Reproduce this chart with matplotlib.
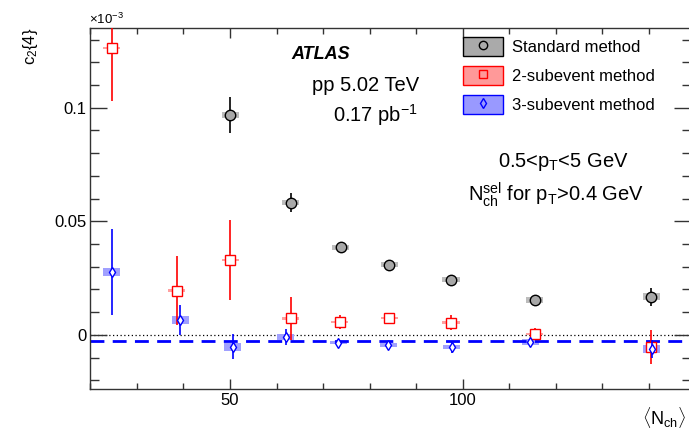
# c2{4} vs <Nch>, three cumulant methods
import matplotlib
matplotlib.use('Agg')
import matplotlib.pyplot as plt
from matplotlib.patches import Patch
from matplotlib.lines import Line2D
from matplotlib.ticker import MultipleLocator, FuncFormatter

plt.rcParams['font.family'] = ['Liberation Sans', 'DejaVu Sans']
plt.rcParams['mathtext.fontset'] = 'custom'
plt.rcParams['mathtext.rm'] = 'Liberation Sans'
plt.rcParams['mathtext.it'] = 'Liberation Sans'
plt.rcParams['mathtext.bf'] = 'Liberation Sans:bold'

# values in units of 1e-3
# standard method
std_x = [50.1, 63.0, 73.8, 84.2, 97.5, 115.5, 140.5]
std_y = [0.0969, 0.0582, 0.0386, 0.0308, 0.0243, 0.0154, 0.0167]
std_err = [0.0078, 0.0042, 0.0012, 0.0010, 0.0012, 0.0015, 0.0038]
std_sys = [0.0013, 0.0012, 0.0011, 0.0011, 0.0012, 0.0013, 0.0015]

# 2-subevent method
sub2_x = [24.6, 38.5, 50.1, 63.0, 73.6, 84.2, 97.5, 115.5, 140.5]
sub2_y = [0.1263, 0.0195, 0.0329, 0.0073, 0.0056, 0.0073, 0.0054, 0.0004, -0.0054]
sub2_err = [0.0235, 0.0152, 0.0177, 0.0094, 0.0030, 0.0012, 0.0035, 0.0027, 0.0076]
sub2_sys = [0.0006, 0.0006, 0.0006, 0.0006, 0.0005, 0.0005, 0.0005, 0.0006, 0.0006]

# 3-subevent method
sub3_x = [24.6, 39.3, 50.6, 62.0, 73.3, 84.0, 97.6, 114.5, 140.6]
sub3_y = [0.0276, 0.0066, -0.0053, -0.0010, -0.0034, -0.0045, -0.0053, -0.0031, -0.0063]
sub3_err = [0.0190, 0.0065, 0.0055, 0.0034, 0.0012, 0.0012, 0.0026, 0.0012, 0.0038]
sub3_sys = [0.0017, 0.0017, 0.0017, 0.0015, 0.0008, 0.0008, 0.0010, 0.0012, 0.0017]

sub3_fit = -0.0026  # fitted constant for 3-subevent

labels = ['Standard method', '2-subevent method', '3-subevent method']

fig = plt.figure(figsize=(6.89, 4.30), dpi=100)
ax = fig.add_axes([90.4 / 689, 1 - 389.3 / 430, 600.4 / 689, 361.0 / 430])

box_w = 3.7

# systematic boxes
ax.bar(std_x, [2 * s for s in std_sys], bottom=[y - s for y, s in zip(std_y, std_sys)],
       width=box_w, color='#bcbcbc', zorder=1)
ax.bar(sub2_x, [2 * s for s in sub2_sys], bottom=[y - s for y, s in zip(sub2_y, sub2_sys)],
       width=box_w, color='#ffa0a0', zorder=1)
ax.bar(sub3_x, [2 * s for s in sub3_sys], bottom=[y - s for y, s in zip(sub3_y, sub3_sys)],
       width=box_w, color='#a0a0ff', zorder=1)

# reference lines
ax.axhline(0, color='black', lw=0.9, ls=(0, (1, 2)), zorder=0)
ax.axhline(sub3_fit, color='blue', lw=2.0, ls=(0, (5, 3)), zorder=2)

# points with stat errors
ax.errorbar(sub2_x, sub2_y, yerr=sub2_err, fmt='s', ms=7.5, mfc='white', mec='red', mew=1.0,
            ecolor='red', elinewidth=1.2, capsize=0, zorder=3)
ax.errorbar(sub3_x, sub3_y, yerr=sub3_err, fmt='d', ms=5, mfc='white', mec='blue', mew=1.0,
            ecolor='blue', elinewidth=1.2, capsize=0, zorder=4)
ax.errorbar(std_x, std_y, yerr=std_err, fmt='o', ms=7.5, mfc='#a8a8a8', mec='black', mew=1.0,
            ecolor='black', elinewidth=1.2, capsize=0, zorder=5)

ax.set_xlim(20, 149)
ax.set_ylim(-0.024, 0.135)

ax.xaxis.set_major_locator(MultipleLocator(50))
ax.xaxis.set_minor_locator(MultipleLocator(10))
ax.yaxis.set_major_locator(MultipleLocator(0.05))
ax.yaxis.set_minor_locator(MultipleLocator(0.01))
ax.yaxis.set_major_formatter(FuncFormatter(lambda v, p: '%g' % round(v, 4)))
ax.xaxis.set_major_formatter(FuncFormatter(lambda v, p: '%g' % v))

ax.tick_params(which='both', direction='in', top=True, right=True, labelsize=12, width=1.0,
               color='#333333', pad=3)
ax.tick_params(axis='y', which='major', length=12)
ax.tick_params(axis='y', which='minor', length=6.5)
ax.tick_params(axis='x', which='major', length=7.5)
ax.tick_params(axis='x', which='minor', length=4.5)
for sp in ax.spines.values():
    sp.set_linewidth(1.0)
    sp.set_color('#333333')

# axis titles, ROOT style
fig.text(30 / 689, 1 - 28 / 430, 'c$_2${4}', rotation=90, ha='center', va='top', fontsize=12)
fig.text(89 / 689, 1 - 24 / 430, r'$\times$10$^{-3}$', ha='left', va='baseline', fontsize=9.5)
fig.text(686 / 689, 1 - 425 / 430, r'$\langle\mathrm{N_{ch}}\rangle$', ha='right', va='baseline',
         fontsize=13)

# labels
fig.text(291.7 / 689, 1 - 59 / 430, 'ATLAS', fontsize=13, fontweight='bold', fontstyle='italic',
         ha='left', va='baseline')
fig.text(311.7 / 689, 1 - 90.7 / 430, 'pp 5.02 TeV', fontsize=14.5, ha='left', va='baseline')
fig.text(332.7 / 689, 1 - 121.7 / 430, '0.17 pb$^{-1}$', fontsize=14.5, ha='left', va='baseline')
fig.text(498 / 689, 1 - 166.7 / 430, '0.5<p$_{\\mathrm{T}}$<5 GeV', fontsize=14.5, ha='left',
         va='baseline')
fig.text(468 / 689, 1 - 201 / 430, '$\\mathrm{N_{ch}^{sel}}$ for p$_{\\mathrm{T}}$>0.4 GeV',
         fontsize=14.5, ha='left', va='baseline')

# legend
handles = [
    (Patch(facecolor='#aaaaaa', edgecolor='black', lw=1.0),
     Line2D([], [], marker='o', ls='none', ms=6, mfc='none', mec='black', mew=1.0)),
    (Patch(facecolor='#ff9999', edgecolor='red', lw=1.0),
     Line2D([], [], marker='s', ls='none', ms=6, mfc='none', mec='red', mew=1.0)),
    (Patch(facecolor='#9999ff', edgecolor='blue', lw=1.0),
     Line2D([], [], marker='d', ls='none', ms=5, mfc='none', mec='blue', mew=1.0)),
]
ax.legend(handles, labels, loc='upper left', bbox_to_anchor=(463 / 689, 1 - 37 / 430),
          bbox_transform=fig.transFigure, frameon=False, fontsize=12, handlelength=2.4,
          handleheight=1.38, labelspacing=0.6, handletextpad=0.55, borderpad=0,
          borderaxespad=0)

fig.savefig('out.png', dpi=100)
